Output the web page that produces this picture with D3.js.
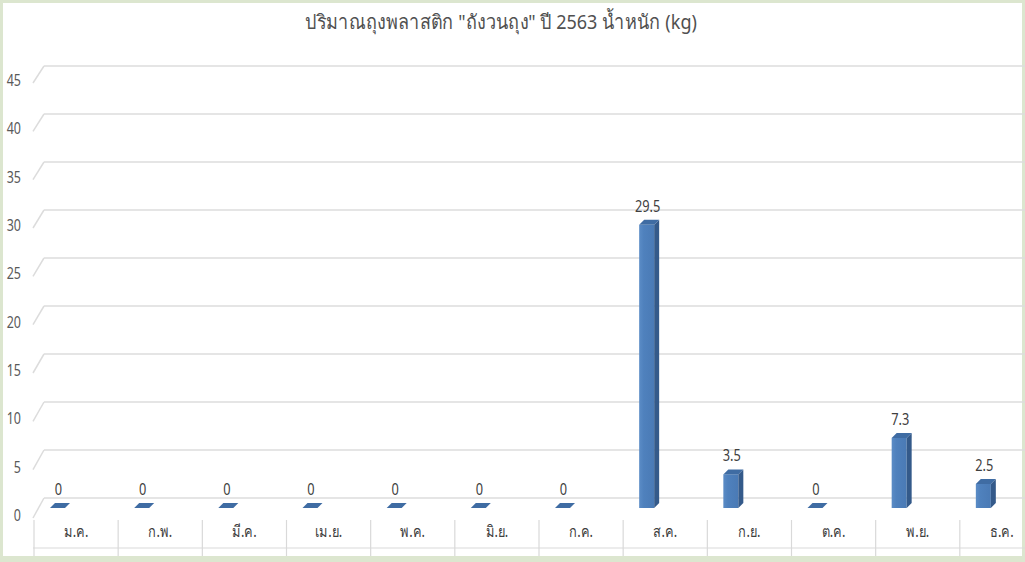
<!DOCTYPE html>
<html>
<head>
<meta charset="utf-8">
<script src="https://cdn.jsdelivr.net/npm/d3@7"></script>
<style>
  html, body { margin: 0; padding: 0; background: #dce6cf; }
  svg { display: block; }
  text { font-family: "Noto Sans", "DejaVu Sans", sans-serif; }
</style>
</head>
<body>
<svg id="chart" width="1025" height="562"></svg>
<script>
"use strict";

const title = 'ปริมาณถุงพลาสติก "ถังวนถุง" ปี 2563 น้ำหนัก (kg)';
const months = ['ม.ค.', 'ก.พ.', 'มี.ค.', 'เม.ย.', 'พ.ค.', 'มิ.ย.', 'ก.ค.', 'ส.ค.', 'ก.ย.', 'ต.ค.', 'พ.ย.', 'ธ.ค.'];
const weights = [0, 0, 0, 0, 0, 0, 0, 29.5, 3.5, 0, 7.3, 2.5];
const yTicks = [0, 5, 10, 15, 20, 25, 30, 35, 40, 45];

const svg = d3.select('#chart');

// white panel inside the green frame
svg.append('rect').attr('x', 3).attr('y', 3).attr('width', 1019).attr('height', 553).attr('fill', '#fff');

// squeezed text, like the narrow look of the picture
function ntext(g, x, y, str, size, anchor, fill, sx = 0.8) {
  return g.append('text')
    .attr('transform', `translate(${x},${y}) scale(${sx},1)`)
    .attr('text-anchor', anchor)
    .attr('font-size', size)
    .attr('fill', fill)
    .text(str);
}

// scales: back wall, front edge of side wall, bar front plane
const yBack = d3.scaleLinear().domain([0, 45]).range([498, 66]);
const yFront = d3.scaleLinear().domain([0, 45]).range([518, 83]);
const yBar = d3.scaleLinear().domain([0, 45]).range([508, 76]);
const x = d3.scaleBand().domain(months).range([34, 1044]);

const backX0 = 44, frontX0 = 33;

// gridlines on back wall + side wall diagonals
const grid = svg.append('g').attr('stroke', '#dcdcdc').attr('stroke-width', 1.5).attr('fill', 'none');
yTicks.forEach(v => {
  grid.append('line').attr('x1', backX0).attr('x2', 1025).attr('y1', yBack(v)).attr('y2', yBack(v));
  grid.append('line').attr('x1', frontX0).attr('x2', backX0).attr('y1', yFront(v)).attr('y2', yBack(v));
});

// y labels
const yl = svg.append('g');
yTicks.forEach(v => {
  ntext(yl, 21, yFront(v) + 3, v, 16, 'end', '#595959', 0.78);
});

// category table lines
const cat = svg.append('g').attr('stroke', '#d9d9d9').attr('stroke-width', 1.2);
cat.append('line').attr('x1', frontX0).attr('x2', 1025).attr('y1', 548).attr('y2', 548);
months.forEach(m => {
  cat.append('line').attr('x1', x(m)).attr('x2', x(m)).attr('y1', yFront(0) + 2).attr('y2', 556);
});

// category labels
const cl = svg.append('g');
months.forEach(m => {
  ntext(cl, x(m) + x.bandwidth() / 2, 537, m, 16, 'middle', '#404040', 0.8);
});

// 3D bars
const defs = svg.append('defs');
const grad = defs.append('linearGradient').attr('id', 'front').attr('x1', 0).attr('x2', 1).attr('y1', 0).attr('y2', 0);
grad.append('stop').attr('offset', 0).attr('stop-color', '#5b8cc6');
grad.append('stop').attr('offset', 0.3).attr('stop-color', '#4f81bd');
grad.append('stop').attr('offset', 1).attr('stop-color', '#4a7ab5');

const bw = 15, dx = 5, dy = -5, off = 16;
const bars = svg.append('g');
months.forEach((m, i) => {
  const v = weights[i];
  const x0 = x(m) + off, x1 = x0 + bw;
  const yt = yBar(v), yb = yBar(0);
  if (v > 0) {
    bars.append('rect').attr('x', x0).attr('y', yt).attr('width', bw).attr('height', yb - yt)
      .attr('fill', 'url(#front)');
    bars.append('path')
      .attr('d', `M${x1},${yt}L${x1 + dx},${yt + dy}L${x1 + dx},${yb + dy}L${x1},${yb}Z`)
      .attr('fill', '#345a8a');
  }
  bars.append('path')
    .attr('d', `M${x0},${yt}L${x0 + dx},${yt + dy}L${x1 + dx},${yt + dy}L${x1},${yt}Z`)
    .attr('fill', '#3f6ca3');
});

// value labels
const vl = svg.append('g');
months.forEach((m, i) => {
  ntext(vl, x(m) + off + bw / 2 + 1, yBar(weights[i]) - 13, weights[i], 16, 'middle', '#404040', 0.8);
});

// title
ntext(svg, 501, 29, title, 20, 'middle', '#505050', 0.9);
</script>
</body>
</html>
